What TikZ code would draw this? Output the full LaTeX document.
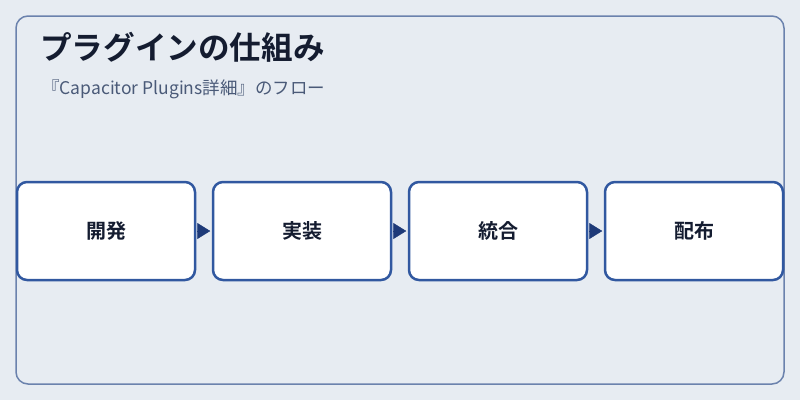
\documentclass[tikz,border=0pt]{standalone}
\usepackage{fontspec}
\setmainfont{Noto Sans CJK JP}[BoldFont={Noto Sans CJK JP Bold}]
\usetikzlibrary{positioning,arrows.meta}
\definecolor{bg}{HTML}{E7ECF2}
\definecolor{frameblue}{HTML}{6B82AD}
\definecolor{boxblue}{HTML}{3158A0}
\definecolor{navy}{HTML}{1E3A78}
\definecolor{ink}{HTML}{141C30}
\definecolor{subink}{HTML}{4A5A78}

\begin{document}
\begin{tikzpicture}[x=1pt, y=-1pt,
		stage/.style = {draw=boxblue, line width=2.5pt, fill=white, rounded corners=10pt,
			minimum width=178pt, minimum height=98pt, inner sep=0pt,
			font=\fontsize{20pt}{24pt}\selectfont\bfseries, text=ink},
		flow/.style = {draw=navy, fill=navy, line width=0.4pt, shorten <=1.5pt, shorten >=1.5pt,
			-{Triangle[length=13pt, width=16pt]}}]
		\fill[bg] (0,0) rectangle (800,400);
		\useasboundingbox (0,0) rectangle (800,400);
		\draw[frameblue, line width=1.5pt, rounded corners=12pt] (16,16) rectangle (784,384);
		\node[anchor=west, text=ink, font=\fontsize{31.6pt}{36pt}\selectfont\bfseries, inner sep=0pt] (title) at (40,47) {プラグインの仕組み};
		\node[anchor=west, text=subink, font=\fontsize{17.5pt}{20pt}\selectfont, inner sep=0pt] (sub) at (42,89) {『Capacitor Plugins詳細』のフロー};
		\node[stage] (dev) at (106,231) {開発};
		\node[stage, right=15.5pt of dev] (impl) {実装};
		\node[stage, right=15.5pt of impl] (integ) {統合};
		\node[stage, right=15.5pt of integ] (dist) {配布};
		\draw[flow] (dev) -- (impl);
		\draw[flow] (impl) -- (integ);
		\draw[flow] (integ) -- (dist);
	\end{tikzpicture}
\end{document}
